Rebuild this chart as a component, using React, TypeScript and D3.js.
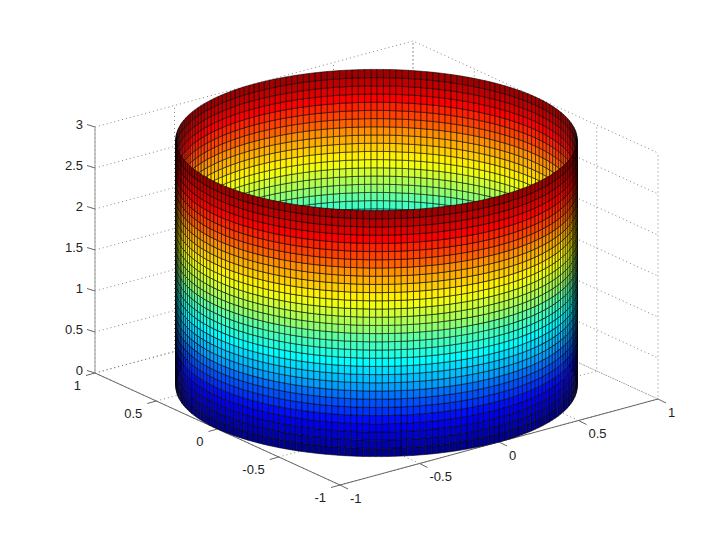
import React from "react";
import * as d3 from "d3";

const xTicks = [-1, -0.5, 0, 0.5, 1];
const yTicks = [-1, -0.5, 0, 0.5, 1];
const zTicks = [0, 0.5, 1, 1.5, 2, 2.5, 3];
const cylinderRadius = [1];
const cylinderHeight = [3];
const facetsAround = [200];
const facetsUp = [30];
const jetStops = [0, 7 / 63, 23 / 63, 39 / 63, 55 / 63, 1];
const jetColors = ["#000090", "#0000ff", "#00ffff", "#ffff00", "#ff0000", "#800000"];

const jet = d3.scaleLinear<string>().domain(jetStops).range(jetColors).interpolate(d3.interpolateRgb);
const levels = d3.scaleQuantize<number>().domain([0, 1]).range(d3.range(64));

// affine view of the MATLAB default 3-D camera
const sxFromX = d3.scaleLinear().domain([-1, 1]).range([-159, 159]);
const sxFromY = d3.scaleLinear().domain([-1, 1]).range([122.5, -122.5]);
const syFromX = d3.scaleLinear().domain([-1, 1]).range([43, -43]);
const syFromY = d3.scaleLinear().domain([-1, 1]).range([56, -56]);
const syFromZ = d3.scaleLinear().domain([0, 3]).range([0, -246]);
const originX = 376.5;
const originY = 386;

const project = (x: number, y: number, z: number): [number, number] => [
  originX + sxFromX(x) + sxFromY(y),
  originY + syFromX(x) + syFromY(y) + syFromZ(z),
];

const toPath = (pts: [number, number][]) => d3.line()(pts) as string;
const FONT = "'Liberation Sans', Arial, sans-serif";

export default function App() {
  const r = cylinderRadius[0];
  const H = cylinderHeight[0];
  const nA = facetsAround[0];
  const nU = facetsUp[0];

  const facets: { d: string; fill: string; depth: number }[] = [];
  d3.range(nA).forEach((i) => {
    const t0 = (i / nA) * 2 * Math.PI;
    const t1 = ((i + 1) / nA) * 2 * Math.PI;
    const tm = (t0 + t1) / 2;
    const depth = syFromX(Math.cos(tm)) + syFromY(Math.sin(tm));
    d3.range(nU).forEach((j) => {
      const z0 = (j / nU) * H;
      const z1 = ((j + 1) / nU) * H;
      const a = r * Math.cos(t0), b = r * Math.sin(t0), c = r * Math.cos(t1), e = r * Math.sin(t1);
      facets.push({
        d: toPath([project(a, b, z0), project(c, e, z0), project(c, e, z1), project(a, b, z1)]) + "Z",
        fill: jet(levels(z0 / H) / 63),
        depth,
      });
    });
  });
  facets.sort((p, q) => d3.ascending(p.depth, q.depth));

  const grid: [number, number][][] = [];
  zTicks.forEach((z) => grid.push([project(-1, 1, z), project(1, 1, z), project(1, -1, z)]));
  xTicks.forEach((x) => grid.push([project(x, -1, 0), project(x, 1, 0), project(x, 1, 3)]));
  yTicks.forEach((y) => grid.push([project(-1, y, 0), project(1, y, 0), project(1, y, 3)]));

  return (
    <svg
      width={728}
      height={546}
      style={{ position: "absolute", left: 0, top: 0, background: "#fff" }}
      fontFamily={FONT}
      fontSize={13}
    >
      <defs>
        <filter id="soft" x="-5%" y="-5%" width="110%" height="110%">
          <feGaussianBlur stdDeviation="0.3" />
        </filter>
      </defs>
      <g fill="none" stroke="#777" strokeWidth={0.9} strokeDasharray="1 3">
        {grid.map((g, i) => (
          <path key={i} d={toPath(g)} />
        ))}
      </g>
      <g fill="none" stroke="#666" strokeWidth={1}>
        <path d={toPath([project(-1, 1, 0), project(-1, -1, 0), project(1, -1, 0)])} />
        {xTicks.map((x) => {
          const [px, py] = project(x, -1, 0);
          return <path key={x} d={toPath([[px, py], [px + 8, py + 4]])} />;
        })}
        {yTicks.map((y) => {
          const [px, py] = project(-1, y, 0);
          return <path key={y} d={toPath([[px, py], [px - 9, py + 2.5]])} />;
        })}
        {zTicks.map((z) => {
          const [px, py] = project(-1, 1, z);
          return <path key={z} d={toPath([[px, py], [px - 8, py - 2.5]])} />;
        })}
        <path stroke="#999" d={toPath([project(-1, 1, 0), project(-1, 1, 3)])} />
      </g>
      <g filter="url(#soft)" stroke="#000" strokeWidth={0.65} strokeOpacity={0.85}>
        {facets.map((f, i) => (
          <path key={i} d={f.d} fill={f.fill} />
        ))}
      </g>
      <g fill="#222">
        {xTicks.map((x) => {
          const [px, py] = project(x, -1, 0);
          return (
            <text key={x} x={px + 10} y={py + 17.5}>
              {x}
            </text>
          );
        })}
        {yTicks.map((y) => {
          const [px, py] = project(-1, y, 0);
          return (
            <text key={y} x={px - 14} y={py + 17} textAnchor="end">
              {y}
            </text>
          );
        })}
        {zTicks.map((z) => {
          const [px, py] = project(-1, 1, z);
          return (
            <text key={z} x={px - 12} y={py + 1.5} textAnchor="end">
              {z}
            </text>
          );
        })}
      </g>
    </svg>
  );
}
